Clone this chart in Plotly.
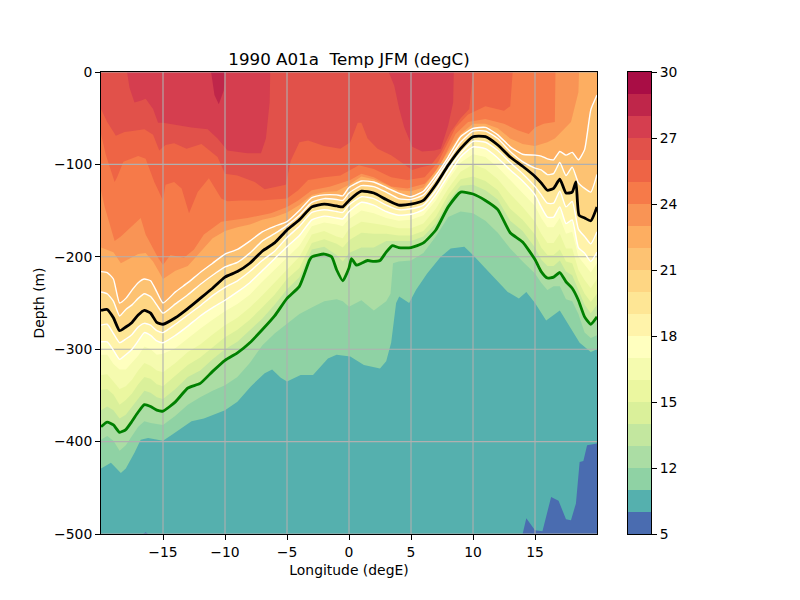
import plotly.graph_objects as go

# ---- data ----
LON = [-20,-19.5,-19,-18.5,-18,-17.5,-17,-16.5,-16,-15.5,-15,
       -14,-13,-12,-11,-10,-9,-8,-7,-6,-5,-4,-3,-2,-1,
       -0.5,0,
       1,2,3,4,5,6,7,8,9,10,11,12,13,14,15,
       15.5,16,16.5,17,17.5,18,18.5,19,19.5,20]

T22 = [-216,-217,-224,-250,-245,-236,-228,-224,-226,-238,-250,
       -238,-228,-217,-207,-197,-192,-183,-173,-167,-162,-150,-136,-133,-133,
       -134,-125,
       -118,-119,-125,-131,-135,-129,-112,-92,-70,-61,-60,-68,-81,-89,-90,
       -91,-94,-95,-86,-90,-87,-95,-84,-41,-25]
T21 = [-238,-240,-248,-264,-257,-252,-245,-240,-243,-252,-261,
       -251,-241,-230,-220,-211,-206,-196,-183,-175,-166,-155,-141,-137,-138,
       -139,-131,
       -123,-124,-130,-137,-138,-133,-116,-96,-76,-64,-64,-72,-86,-97,-104,
       -106,-111,-110,-98,-112,-103,-120,-126,-130,-111]
T20_LON = [-20,-19.5,-19,-18.5,-18,-17.5,-17,-16.5,-16,-15.5,-15,
           -14,-13,-12,-11,-10,-9,-8,-7,-6,-5,-4,-3,-2,-1,
           -0.5,0,
           1,2,3,4,5,6,7,8,9,10,11,12,13,14,15,
           15.5,16,16.5,17,17.5,18,18.3,18.55,19,19.5,20]
T20 = [-258,-257,-266,-280,-276,-271,-263,-258,-261,-271,-273,
       -266,-256,-245,-234,-222,-216,-207,-194,-185,-171,-160,-146,-143,-145,
       -146,-139,
       -129,-131,-138,-144,-143,-139,-122,-101,-83,-70,-70,-79,-92,-102,-113,
       -120,-128,-126,-116,-131,-130,-119,-155,-158,-161,-146]
T19 = [-274,-273,-283,-293,-289,-284,-276,-272,-274,-280,-282,
       -273,-263,-253,-242,-233,-226,-216,-204,-194,-179,-167,-152,-149,-151,
       -152,-144,
       -135,-137,-144,-149,-148,-144,-128,-106,-88,-75,-76,-85,-98,-110,-124,
       -133,-142,-142,-129,-146,-140,-170,-178,-186,-173]
T18 = [-292,-292,-301,-311,-306,-300,-291,-282,-285,-291,-293,
       -285,-275,-264,-255,-247,-238,-228,-215,-202,-189,-177,-160,-156,-158,
       -159,-151,
       -141,-144,-151,-155,-154,-149,-133,-112,-92,-81,-83,-93,-106,-118,-133,
       -146,-157,-157,-146,-164,-160,-190,-196,-205,-195]
T17 = [-306,-306,-316,-322,-322,-315,-307,-297,-300,-306,-305,
       -299,-288,-278,-268,-259,-251,-241,-227,-214,-200,-188,-167,-163,-165,
       -167,-159,
       -150,-153,-158,-161,-160,-155,-139,-117,-98,-89,-92,-103,-117,-130,-145,
       -158,-168,-168,-158,-175,-173,-200,-208,-217,-207]
T16 = [-328,-327,-335,-343,-340,-333,-323,-315,-318,-323,-325,
       -315,-303,-295,-284,-274,-266,-255,-242,-228,-213,-200,-176,-172,-178,
       -180,-170,
       -162,-164,-166,-169,-169,-164,-148,-126,-108,-100,-105,-116,-132,-146,-162,
       -175,-185,-185,-175,-191,-191,-214,-225,-234,-224]
T15 = [-344,-343,-349,-360,-355,-348,-338,-330,-332,-338,-340,
       -329,-317,-309,-298,-287,-279,-268,-255,-241,-224,-212,-185,-181,-186,
       -190,-182,
       -174,-175,-175,-177,-177,-172,-157,-133,-116,-113,-118,-128,-148,-160,-176,
       -190,-198,-198,-192,-205,-207,-226,-240,-249,-240]
T14 = [-366,-362,-366,-375,-371,-362,-353,-345,-347,-352,-354,
       -343,-330,-323,-311,-300,-292,-280,-267,-252,-235,-222,-192,-189,-198,
       -205,-196,
       -190,-190,-183,-183,-183,-178,-164,-140,-123,-122,-128,-138,-161,-172,-190,
       -203,-210,-210,-204,-216,-220,-236,-252,-261,-252]
T13_LON = [-20,-19.5,-19,-18.5,-18,-17.5,-17,-16.5,-16,-15.5,-15,
           -14,-13,-12,-11,-10,-9,-8,-7,-6,-5,-4,-3.2,-3,-2,-1.4,-1,
           -0.5,0,0.2,0.6,
           1,1.5,2,2.5,3,3.5,4,5,6,7,8,9,10,11,12,13,14,15,
           15.5,16,16.5,17,17.5,18,18.5,19,19.5,20]
T13 = [-384,-379,-382,-390,-387,-378,-368,-360,-362,-366,-367,
       -357,-342,-337,-324,-312,-304,-293,-279,-264,-245,-232,-204,-200,-197,-200,-214,
       -226,-212,-202,-209,
       -207,-204,-205,-204,-195,-188,-190,-190,-185,-171,-146,-130,-132,-139,-149,-174,-184,-203,
       -216,-223,-222,-217,-227,-234,-247,-265,-273,-265]
T12_LON = [-20,-19.5,-19,-18.5,-18,-17.5,-17,-16.5,-16,-15.5,-15,
           -14,-13,-12,-11,-10,-9,-8,-7,-6,-5,-4,-3,-2,-1,
           -0.5,0,
           1,2,3,3.35,3.55,4,5,6,7,8,9,10,11,12,13,14,15,
           15.5,16,16.5,17,17.5,18,18.5,19,19.5,20]
T12 = [-398,-394,-399,-410,-404,-394,-384,-378,-380,-381,-382,
       -372,-360,-352,-345,-339,-330,-315,-296,-283,-272,-262,-255,-248,-246,
       -248,-254,
       -247,-258,-248,-240,-207,-205,-204,-196,-178,-157,-151,-153,-161,-174,-191,-205,-218,
       -228,-236,-232,-232,-246,-248,-262,-282,-288,-285]

T11_LON = [-20,-19.2,-18.4,-18,-17.3,-16.8,-16.2,-15,-14.1,-12.7,-11.7,-10,-9,-7.9,-6.8,-6.2,-5.5,-5,-3.9,-2.9,-1.7,-1,0.1,
           1.2,2.5,3,3.4,3.8,4.05,4.85,5.4,6.3,7.4,8.2,9.3,10,10.9,12,12.8,13.7,14.3,15,15.9,17,17.9,18.6,19.5,20]
T11 = [-429,-423,-434,-429,-412,-398,-396,-399,-391,-378,-375,-366,-357,-340,-326,-322,-331,-335,-328,-328,-310,-306,-308,
       -317,-321,-313,-293,-250,-243,-250,-236,-218,-200,-191,-189,-198,-211,-227,-238,-245,-238,-250,-269,-258,-277,-293,-303,-300]

T10_LON = [-20,-16.6,-16.4,-16.2,14,14.3,15,15.6,16.3,16.9,17.5,17.9,18.3,18.6,18.9,19.2,20]
T10 = [-500,-500,-498,-500,-500,-483,-496,-497,-460,-464,-484,-485,-467,-422,-421,-404,-402]

T23_LON = [-20,-19,-18.4,-17,-16.4,-15.8,-15,-14,-13,-12,-11,-10,-9,-8,-7,-6,-5,-4,-3,-2,-1,0,1,2,3,4,5,6,7,8,9,10,11,12,13,14,15,16,16.6,17.5,17.9,18.5,18.55,20]
T23 = [-190,-195,-207,-197,-196,-205,-224,-215,-210,-195,-180,-172,-168,-165,-160,-157,-152,-144,-133,-130,-129,-122,-113,-116,-122,-128,-129,-125,-107,-86,-67,-56,-56,-61,-72,-78,-80,-76,-72,-60,-54,-22,0,0]

T24_LON = [-20,-19.7,-18.9,-18.4,-16.8,-16.4,-15.4,-15,-14.4,-13.3,-12.5,-11.7,-10.3,-8.2,-6.3,-5,-4.1,-3,-1.5,0.1,1,2,3.4,4.7,6.1,7.2,8,8.6,9.6,11,12.5,13.6,14.5,15,15.7,16.6,16.65,20]
T24 = [-128,-146,-183,-178,-158,-176,-201,-209,-198,-201,-192,-176,-162,-158,-153,-146,-139,-128,-124,-117,-110,-114,-124,-126,-121,-105,-83,-67,-54,-51,-56,-63,-67,-60,-56,-54,0,0]

T25_LON = [-20,-19.6,-18.9,-18.7,-18.2,-17,-16.4,-15.7,-15,-14.8,-14.1,-13.5,-12.9,-12.2,-11.3,-10.3,-9.8,-8.7,-7.1,-5,-4.1,-3.3,-2,-0.7,0.1,0.8,2,3.4,4.7,6.1,7.2,8,8.6,9.6,11,12.5,13,13.2,20]
T25 = [-67,-90,-119,-114,-97,-91,-94,-119,-139,-122,-119,-126,-153,-130,-115,-137,-140,-139,-139,-137,-128,-117,-114,-112,-106,-101,-105,-114,-117,-114,-97,-76,-60,-46,-37,-42,-37,0,0]

T26_LON = [-20,-19.5,-18.8,-18.1,-17.6,-16.5,-15.8,-15.3,-14.8,-14.1,-13.1,-11.9,-10.6,-10,-9,-7.6,-6.8,-5.7,-5.1,-4.7,-4,-3.3,-2,-0.7,0.1,0.7,1,1.5,2.3,3.4,4.5,5.1,5.8,6.6,7.4,8.2,9,9.7,10,20]
T26 = [-40,-54,-69,-65,-64,-62,-68,-85,-79,-77,-83,-78,-92,-110,-112,-119,-127,-124,-122,-96,-76,-74,-80,-83,-76,-55,-55,-72,-83,-90,-101,-106,-103,-101,-87,-65,-50,-40,0,0]

T27_LON = [-20,-17.9,-17.7,-17.3,-16.8,-16.4,-15.8,-15.4,-15,-13.8,-12.7,-11.4,-10.6,-9.8,-8.2,-7.1,-6.7,-6.4,-6.35,3.2,3.65,4.05,4.46,5.1,5.9,6.9,7.4,8,8.4,8.45,20]
T27 = [0,0,-17,-33,-31,-29,-40,-55,-55,-58,-60,-62,-72,-85,-88,-88,-72,-33,0,0,-15,-40,-60,-81,-86,-85,-83,-58,-33,0,0]

T28_LON = [-20,-11.15,-11.1,-10.85,-10.5,-10.1,-10,20]
T28 = [0,0,-2,-25,-35,-20,0,0]

X_TICKS = [-15,-10,-5,0,5,10,15]
Y_TICKS = [-500,-400,-300,-200,-100,0]
CBAR_LABELS = ["5","12","15","18","21","24","27","30"]
CBAR_STEPS = [0,3,6,9,12,15,18,21]

# ---- styles ----
BAND_COLORS = ["#4a6cb0","#55b0ae","#8fd2a4","#abdda4","#c3e79f","#daf09a","#ebf7a0","#f5fbaf",
               "#ffffbf","#fff3aa","#fee695","#fed683","#fdc272","#fdae61","#f99455","#f67a49",
               "#ee6445","#e1514a","#d53e4f","#bf264a","#a90d45"]
W, H = 800, 600
PAGE_X, PAGE_Y = 7, 8           # offset of the plot inside the browser page
ML, MR, MT, MB = 40, 40, 30, 20
PW, PH = W - ML - MR, H - MT - MB
def dx(px):
    return (px - PAGE_X - ML) / PW
def dy(py):
    return 1 - (py - PAGE_Y - MT) / PH
L, R, TOP, BOT = 100, 596, 72, 534
FONT = "DejaVu Sans"

fig = go.Figure()

# filled layers, warmest first: each one paints everything colder than its level
layers = [
    (T28_LON, T28, 18), (T27_LON, T27, 17), (T26_LON, T26, 16), (T25_LON, T25, 15),
    (T24_LON, T24, 14), (T23_LON, T23, 13), (LON, T22, 12), (LON, T21, 11),
    (T20_LON, T20, 10), (LON, T19, 9), (LON, T18, 8), (LON, T17, 7), (LON, T16, 6),
    (LON, T15, 5), (LON, T14, 4), (T13_LON, T13, 3), (T12_LON, T12, 2), (T11_LON, T11, 1),
    (T10_LON, T10, 0),
]
xmin, xmax, ymin = -20, 20, -500
for lon, depth, band in layers:
    fig.add_trace(go.Scatter(x=list(lon) + [xmax, xmin], y=list(depth) + [ymin, ymin],
                             mode="lines", fill="toself", fillcolor=BAND_COLORS[band],
                             line=dict(width=0), hoverinfo="skip", showlegend=False))

# grid sits above the fills and below the contour lines
gx, gy = [], []
for t in X_TICKS:
    gx += [t, t, None]; gy += [ymin, 0, None]
for t in Y_TICKS:
    gx += [xmin, xmax, None]; gy += [t, t, None]
fig.add_trace(go.Scatter(x=gx, y=gy, mode="lines", line=dict(color="#b0b0b0", width=1.1),
                         hoverinfo="skip", showlegend=False))

for depth in (T18, T19, T21, T22):
    fig.add_trace(go.Scatter(x=LON, y=depth, mode="lines",
                             line=dict(color="white", width=1.4, shape="spline", smoothing=0.5),
                             hoverinfo="skip", showlegend=False))
fig.add_trace(go.Scatter(x=T13_LON, y=T13, mode="lines",
                         line=dict(color="green", width=2.8, shape="spline", smoothing=0.5),
                         hoverinfo="skip", showlegend=False))
fig.add_trace(go.Scatter(x=T20_LON, y=T20, mode="lines",
                         line=dict(color="black", width=2.8, shape="spline", smoothing=0.5),
                         hoverinfo="skip", showlegend=False))

# discrete colour bar
fig.add_trace(go.Bar(x=[0] * len(BAND_COLORS), y=[1] * len(BAND_COLORS),
                     base=list(range(len(BAND_COLORS))), width=1,
                     marker=dict(color=BAND_COLORS, line=dict(width=0)),
                     xaxis="x2", yaxis="y2", hoverinfo="skip", showlegend=False))

axis_common = dict(showline=True, linecolor="black", linewidth=1, mirror=True, ticks="outside",
                   ticklen=5, tickwidth=1, tickcolor="black", showgrid=False, zeroline=False,
                   tickfont=dict(family=FONT, size=13.9, color="black"))
fig.update_layout(
    width=W, height=H, autosize=False, margin=dict(l=ML, r=MR, t=MT, b=MB),
    paper_bgcolor="white", plot_bgcolor=BAND_COLORS[19], barmode="overlay", bargap=0,
    font=dict(family=FONT, size=13.9, color="black"),
    title=dict(text="1990 A01a\u00a0 Temp JFM (degC)", x=(348 - PAGE_X) / W, xanchor="center",
               y=1 - (59 - PAGE_Y) / H, yanchor="middle", font=dict(family=FONT, size=16.7, color="black")),
    xaxis=dict(domain=[dx(L), dx(R)], range=[xmin, xmax], tickmode="array", tickvals=X_TICKS,
               title=dict(text="Longitude (degE)", standoff=6, font=dict(family=FONT, size=13.9)),
               **axis_common),
    yaxis=dict(domain=[dy(BOT), dy(TOP)], range=[ymin, 0], tickmode="array", tickvals=Y_TICKS,
               title=dict(text="Depth (m)", standoff=6, font=dict(family=FONT, size=13.9)),
               **axis_common),
    xaxis2=dict(domain=[dx(627), dx(650)], range=[-0.5, 0.5], anchor="y2", showticklabels=False,
                showline=True, linecolor="black", linewidth=1, mirror=True, ticks="",
                showgrid=False, zeroline=False),
    yaxis2=dict(domain=[dy(BOT), dy(TOP)], range=[0, len(BAND_COLORS)], anchor="x2", side="right",
                tickmode="array", tickvals=CBAR_STEPS, ticktext=CBAR_LABELS, **axis_common),
)
fig.write_html("out.html")
